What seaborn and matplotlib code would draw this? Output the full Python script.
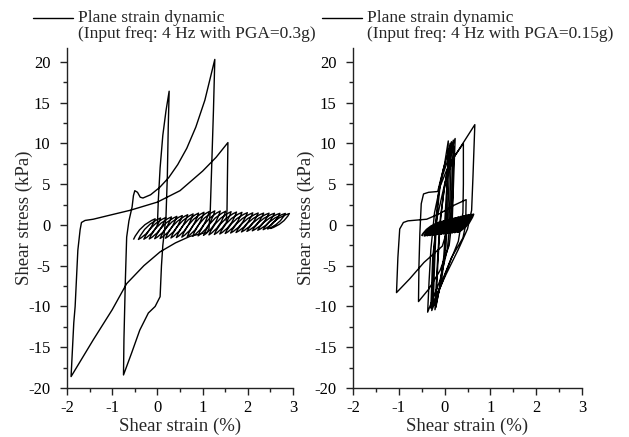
import matplotlib
matplotlib.use("Agg")
import matplotlib.pyplot as plt
from matplotlib.path import Path
from matplotlib.patches import PathPatch
from matplotlib.lines import Line2D
from matplotlib.ticker import MultipleLocator
import seaborn as sns

# ---- PGA = 0.3g: large excursions (strain %, stress kPa) ----
left_strain = [0.00, 0.02, 0.06, 0.12, 0.19, 0.26, 0.24, 0.22, 0.19, 0.12, 0.09, 0.06,
               -0.05, -0.20, -0.39, -0.57, -0.75, -0.74, -0.71, -0.68, -0.63, -0.56,
               -0.53, -0.50, -0.44, -0.38, -0.32, -0.15, 0.05, 0.25, 0.45, 0.65, 0.85,
               1.05, 1.27, 1.24, 1.20, 1.17, 1.14, 1.10, 0.72, 0.40, 0.06, -0.30, -0.68,
               -1.00, -1.42, -1.91, -1.85, -1.82, -1.76, -1.71, -1.68, -1.60, -1.42,
               -1.05, -0.60, 0.00, 0.50, 1.00, 1.30, 1.56, 1.55, 1.54, 1.52]
left_stress = [0.0, 3.0, 7.0, 11.0, 14.0, 16.4, 12.0, 6.0, 1.0, -2.5, -5.0, -8.8,
               -10.0, -10.8, -12.9, -15.7, -18.4, -14.0, -7.0, -1.5, 0.5, 2.2,
               3.6, 4.2, 4.0, 3.4, 3.3, 3.7, 4.6, 5.8, 7.4, 9.4, 12.0,
               15.3, 20.3, 14.0, 7.0, 1.8, -0.5, -0.9, -1.4, -2.2, -3.3, -5.0, -7.2,
               -10.4, -14.1, -18.6, -12.0, -10.0, -3.1, -0.6, 0.3, 0.55, 0.7,
               1.2, 1.8, 2.8, 4.2, 6.6, 8.3, 10.1, 6.0, 1.8, 0.5]

# small ratcheting cycles: trough / peak reversal points
left_trough_strain = [-0.53, -0.42, -0.30, -0.18, -0.06, 0.06, 0.18, 0.30, 0.42, 0.54,
                      0.66, 0.78, 0.90, 1.02, 1.14, 1.26, 1.38, 1.50, 1.62, 1.74,
                      1.86, 1.98, 2.10, 2.22, 2.34, 2.44, 2.50]
left_trough_stress = [-1.80, -1.78, -1.75, -1.72, -1.69, -1.66, -1.63, -1.60, -1.55, -1.50,
                      -1.45, -1.40, -1.34, -1.28, -1.22, -1.17, -1.11, -1.05, -0.99, -0.93,
                      -0.86, -0.79, -0.72, -0.65, -0.58, -0.50, -0.45]
left_peak_strain = [-0.05, 0.07, 0.19, 0.31, 0.43, 0.55, 0.67, 0.79, 0.91, 1.03,
                    1.15, 1.27, 1.39, 1.51, 1.63, 1.75, 1.87, 1.99, 2.11, 2.23,
                    2.35, 2.47, 2.59, 2.71, 2.83, 2.92]
left_peak_stress = [0.75, 0.85, 0.92, 0.98, 1.05, 1.15, 1.25, 1.35, 1.45, 1.55,
                    1.65, 1.72, 1.70, 1.68, 1.62, 1.58, 1.54, 1.50, 1.48, 1.46,
                    1.45, 1.44, 1.43, 1.42, 1.41, 1.40]

# ---- PGA = 0.15g ----
right_strain = [0.00, 0.03, 0.07, 0.12, 0.10, 0.07, 0.03, -0.06, -0.21,
                -0.18, -0.14, -0.09, 0.02, 0.19, 0.17, 0.13, 0.06, -0.10, -0.37,
                -0.34, -0.30, -0.22, -0.06, 0.23, 0.20, 0.17, 0.10, -0.10, -0.35, -0.57,
                -0.56, -0.54, -0.51, -0.46, -0.35, -0.15, -0.03, 0.15,
                0.13, 0.09, -0.05, -0.45, -0.76, -1.05,
                -1.02, -0.98, -0.90, -0.80, -0.39, -0.10, 0.20, 0.47,
                0.46, 0.40, 0.15, -0.05, -0.25,
                -0.22, -0.18, -0.10, 0.08, 0.66,
                0.62, 0.59, 0.50, 0.30, 0.02, -0.30,
                -0.26, -0.16, 0.00, 0.19, 0.41, 0.41, 0.40,
                0.30, 0.05, -0.28,
                -0.24, -0.20, -0.12, 0.00, 0.08,
                0.06, 0.03, -0.02, -0.12, -0.19,
                -0.15, -0.10, -0.02, 0.10, 0.20, 0.18, 0.15]
right_stress = [0.0, 3.0, 6.5, 10.0, 6.0, 1.5, -2.5, -6.5, -10.4,
                -7.0, -3.0, 1.0, 5.5, 10.4, 6.0, 1.0, -3.0, -6.8, -10.7,
                -7.0, -3.0, 1.5, 5.8, 10.6, 6.0, 1.0, -2.5, -5.6, -7.9, -9.4,
                -5.0, -1.0, 2.6, 3.8, 4.0, 4.1, 6.8, 10.2,
                5.0, 0.0, -2.6, -4.6, -6.6, -8.3,
                -4.0, -0.5, 0.3, 0.5, 0.7, 1.4, 2.4, 3.1,
                0.0, -1.6, -4.0, -6.8, -10.0,
                -5.0, 0.5, 4.7, 7.2, 12.3,
                6.0, 1.8, -0.5, -3.0, -6.2, -10.2,
                -4.0, 1.0, 5.0, 8.2, 10.0, 5.0, 1.5,
                -2.0, -5.5, -10.5,
                -5.0, 0.0, 4.5, 7.5, 10.3,
                5.0, 0.0, -4.0, -8.0, -10.1,
                -5.0, 0.0, 4.0, 8.0, 9.6, 4.0, 0.5]

right_trough_strain = [-0.50, -0.44, -0.38, -0.32, -0.26, -0.20, -0.14, -0.08, -0.02,
                       0.04, 0.10, 0.16, 0.22, 0.28, 0.30]
right_trough_stress = [-1.35, -1.33, -1.30, -1.27, -1.24, -1.20, -1.16, -1.12, -1.08,
                       -1.04, -1.00, -0.96, -0.92, -0.88, -0.85]
right_peak_strain = [-0.12, -0.06, 0.00, 0.06, 0.12, 0.18, 0.24, 0.30, 0.36,
                     0.42, 0.48, 0.53, 0.58, 0.63]
right_peak_stress = [0.30, 0.40, 0.50, 0.60, 0.70, 0.78, 0.86, 0.94, 1.02,
                     1.10, 1.18, 1.24, 1.28, 1.30]

titles = ["(Input freq: 4 Hz with PGA=0.3g)", "(Input freq: 4 Hz with PGA=0.15g)"]
legend_label = "Plane strain dynamic"

sns.set_theme(style="ticks")
plt.rcParams["font.family"] = ["Liberation Serif", "DejaVu Serif"]
plt.rcParams["axes.unicode_minus"] = False


def draw_cycles(ax, tx, ty, px, py, lw):
    """Closed hysteresis cycles: each branch is a curved segment between reversal points."""
    verts = [(tx[0], ty[0])]
    codes = [Path.MOVETO]
    for i in range(len(px)):
        x0, y0, x1, y1 = tx[i], ty[i], px[i], py[i]
        verts += [(x0 + 0.3 * (x1 - x0), y0 + 0.7 * (y1 - y0)), (x1, y1)]
        codes += [Path.CURVE3, Path.CURVE3]
        x2, y2 = tx[i + 1], ty[i + 1]
        verts += [(x1 + 0.3 * (x2 - x1), y1 + 0.7 * (y2 - y1)), (x2, y2)]
        codes += [Path.CURVE3, Path.CURVE3]
    ax.add_patch(PathPatch(Path(verts, codes), fill=False, lw=lw, ec="black",
                           joinstyle="round"))


W, H = 629, 437
fig = plt.figure(figsize=(W / 100, H / 100), dpi=100)
ax_l = fig.add_axes([67 / W, 1 - 388 / H, 226 / W, 340 / H])
ax_r = fig.add_axes([353 / W, 1 - 388 / H, 229 / W, 340 / H])

sns.lineplot(x=left_strain, y=left_stress, sort=False, estimator=None,
             color="black", linewidth=1.0, ax=ax_l)
draw_cycles(ax_l, left_trough_strain, left_trough_stress,
            left_peak_strain, left_peak_stress, 1.0)

sns.lineplot(x=right_strain, y=right_stress, sort=False, estimator=None,
             color="black", linewidth=1.0, ax=ax_r)
draw_cycles(ax_r, right_trough_strain, right_trough_stress,
            right_peak_strain, right_peak_stress, 1.4)

for ax, ylab_x in ((ax_l, -0.150), (ax_r, -0.166)):
    ax.set_xlim(-2, 3)
    ax.set_ylim(-20, 21.7)
    ax.xaxis.set_major_locator(MultipleLocator(1))
    ax.xaxis.set_minor_locator(MultipleLocator(0.5))
    ax.yaxis.set_major_locator(MultipleLocator(5))
    ax.yaxis.set_minor_locator(MultipleLocator(2.5))
    sns.despine(ax=ax)
    for s in ("left", "bottom"):
        ax.spines[s].set_linewidth(1.0)
        ax.spines[s].set_color("#222222")
    ax.tick_params(which="major", length=5, width=1.0, direction="out",
                   labelsize=12, pad=3.5, color="#222222", labelcolor="black")
    ax.tick_params(which="minor", length=3, width=1.0, direction="out",
                   color="#222222")
    ax.tick_params(axis="y", which="major", pad=7)
    ax.set_xlabel("Shear strain (%)", fontsize=13.5, labelpad=1)
    ax.set_ylabel("Shear stress (kPa)", fontsize=13.5)
    ax.yaxis.set_label_coords(ylab_x, 0.5)
    ax.set_facecolor("white")

# legend-style headers above each panel
for x0, title in ((33, titles[0]), (322, titles[1])):
    fig.add_artist(Line2D([x0 / W, (x0 + 40) / W], [1 - 18 / H, 1 - 18 / H],
                          color="black", lw=1.0, transform=fig.transFigure))
    fig.text((x0 + 45) / W, 1 - 18 / H, legend_label, fontsize=12.5,
             va="center", ha="left")
    fig.text((x0 + 45) / W, 1 - 34 / H, title, fontsize=12.5,
             va="center", ha="left")

fig.savefig("out.png", dpi=100, facecolor="white")
